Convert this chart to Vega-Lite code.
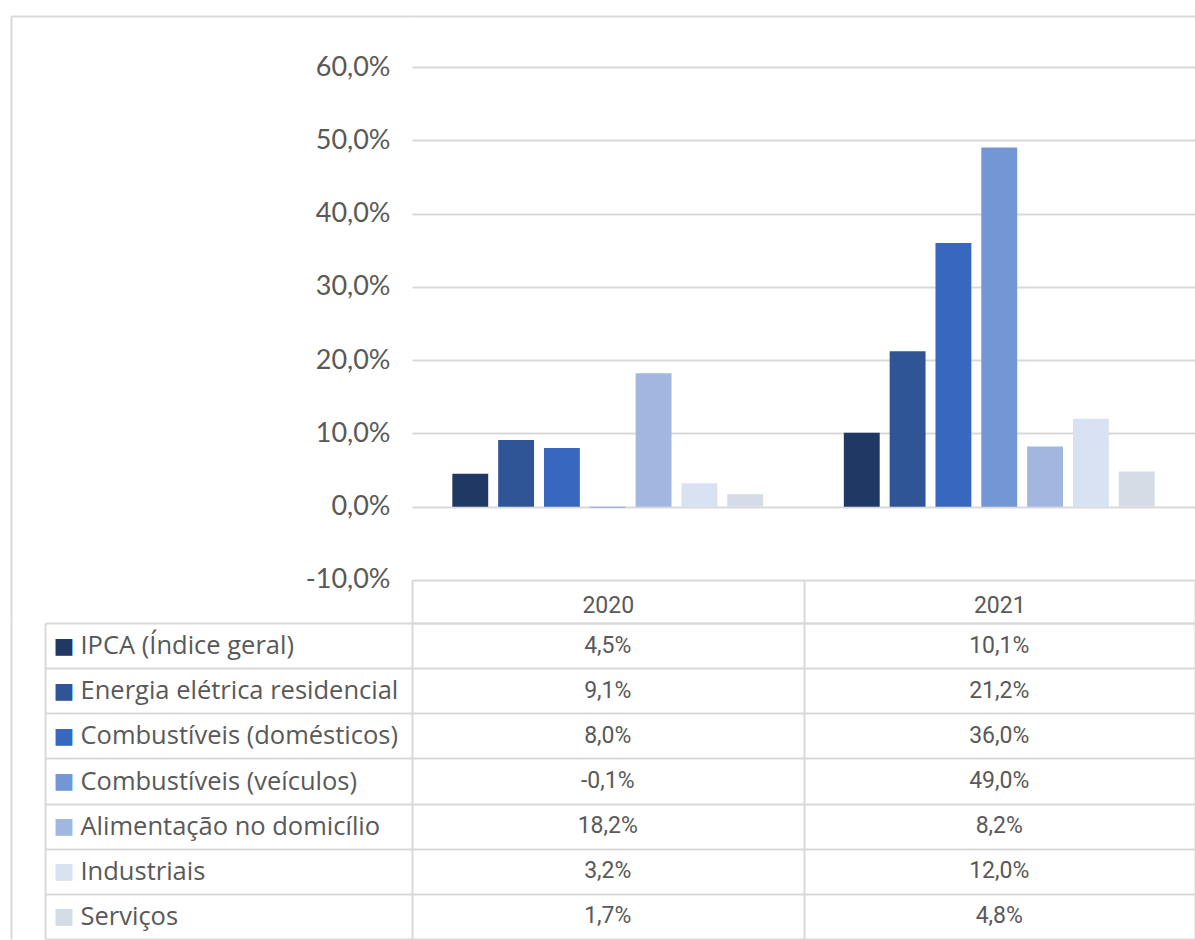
{
  "$schema": "https://vega.github.io/schema/vega-lite/v6.json",
  "padding": {"left": 10, "top": 15, "right": 0, "bottom": 0},
  "background": "white",
  "bounds": "flush",
  "spacing": 0,
  "config": {
    "locale": {"number": {"decimal": ",", "thousands": ".", "grouping": [3], "currency": ["R$", ""], "minus": "-"}},
    "view": {"stroke": null}
  },
  "data": {"values": [
    {"ano": "2020", "serie": "IPCA (Índice geral)", "valor": 0.045},
    {"ano": "2020", "serie": "Energia elétrica residencial", "valor": 0.091},
    {"ano": "2020", "serie": "Combustíveis (domésticos)", "valor": 0.080},
    {"ano": "2020", "serie": "Combustíveis (veículos)", "valor": -0.001},
    {"ano": "2020", "serie": "Alimentação no domicílio", "valor": 0.182},
    {"ano": "2020", "serie": "Industriais", "valor": 0.032},
    {"ano": "2020", "serie": "Serviços", "valor": 0.017},
    {"ano": "2021", "serie": "IPCA (Índice geral)", "valor": 0.101},
    {"ano": "2021", "serie": "Energia elétrica residencial", "valor": 0.212},
    {"ano": "2021", "serie": "Combustíveis (domésticos)", "valor": 0.360},
    {"ano": "2021", "serie": "Combustíveis (veículos)", "valor": 0.490},
    {"ano": "2021", "serie": "Alimentação no domicílio", "valor": 0.082},
    {"ano": "2021", "serie": "Industriais", "valor": 0.120},
    {"ano": "2021", "serie": "Serviços", "valor": 0.048}
  ]},
  "resolve": {"scale": {"x": "independent", "y": "independent"}},
  "vconcat": [
    {
      "width": 783,
      "height": 607,
      "layer": [
        {
          "mark": {"type": "bar"},
          "encoding": {
            "x": {"field": "ano", "type": "nominal", "scale": {"paddingInner": 0, "paddingOuter": 0}, "axis": null},
            "xOffset": {"field": "serie", "type": "nominal",
              "sort": ["IPCA (Índice geral)", "Energia elétrica residencial", "Combustíveis (domésticos)", "Combustíveis (veículos)", "Alimentação no domicílio", "Industriais", "Serviços"],
              "scale": {"paddingInner": 0.217, "paddingOuter": 0.88}},
            "y": {"field": "valor", "type": "quantitative",
              "scale": {"domain": [-0.1587, 0.6696], "nice": false, "zero": false},
              "axis": {
                "values": [-0.1, 0, 0.1, 0.2, 0.3, 0.4, 0.5, 0.6, 0.6696],
                "format": ".1%",
                "labelExpr": "datum.value > 0.65 ? '' : datum.label",
                "title": null,
                "domain": false,
                "grid": true, "gridColor": "#d9d9d9", "gridWidth": 2,
                "ticks": true, "tickSize": 401, "tickWidth": 2,
                "tickColor": {"condition": {"test": "datum.value > 0.65", "value": "#d9d9d9"}, "value": "transparent"},
                "labelPadding": -379,
                "labelFont": "Lato", "labelFontSize": 27, "labelColor": "#595959"
              }},
            "color": {"field": "serie", "type": "nominal", "legend": null,
              "scale": {
                "domain": ["IPCA (Índice geral)", "Energia elétrica residencial", "Combustíveis (domésticos)", "Combustíveis (veículos)", "Alimentação no domicílio", "Industriais", "Serviços"],
                "range": ["#1f3864", "#2f5597", "#3867bf", "#7297d4", "#a2b7e0", "#d9e2f3", "#d6dce5"]}}
          }
        },
        {
          "mark": {"type": "rule", "opacity": 0},
          "encoding": {
            "y": {"field": "valor", "type": "quantitative",
              "axis": {"orient": "left", "offset": 401, "domain": true, "domainColor": "#d9d9d9", "domainWidth": 2, "labels": false, "ticks": false, "grid": false, "title": null}}
          }
        }
      ],
      "resolve": {"axis": {"y": "independent"}}
    },
    {
      "width": 783,
      "height": 316,
      "layer": [
        {
          "mark": {"type": "text", "font": "Roboto", "fontSize": 23, "color": "#595959"},
          "encoding": {
            "x": {"field": "ano", "type": "nominal", "scale": {"paddingInner": 0, "paddingOuter": 0},
              "axis": {"orient": "top", "tickBand": "extent", "tickSize": 43, "tickColor": "#d9d9d9", "tickWidth": 2,
                "domain": true, "domainColor": "#d9d9d9", "domainWidth": 2,
                "grid": true, "gridColor": "#d9d9d9", "gridWidth": 2,
                "labelAngle": 0, "labelBaseline": "middle", "labelPadding": -25,
                "labelFont": "Roboto", "labelFontSize": 23, "labelColor": "#595959", "title": null}},
            "y": {"field": "serie", "type": "nominal",
              "sort": ["IPCA (Índice geral)", "Energia elétrica residencial", "Combustíveis (domésticos)", "Combustíveis (veículos)", "Alimentação no domicílio", "Industriais", "Serviços"],
              "scale": {"paddingInner": 0, "paddingOuter": 0},
              "axis": {"orient": "left", "tickBand": "extent", "tickSize": 367, "tickColor": "#d9d9d9", "tickWidth": 2,
                "grid": true, "gridColor": "#d9d9d9", "gridWidth": 2, "domain": false,
                "labelAlign": "left", "labelBaseline": "middle", "labelPadding": -35, "labelLimit": 0,
                "labelFont": "Open Sans", "labelFontSize": 25.5, "labelColor": "#595959", "title": null}},
            "text": {"field": "valor", "type": "quantitative", "format": ".1%"}
          }
        },
        {
          "mark": {"type": "rule", "opacity": 0},
          "encoding": {
            "y": {"field": "serie", "type": "nominal",
              "sort": ["IPCA (Índice geral)", "Energia elétrica residencial", "Combustíveis (domésticos)", "Combustíveis (veículos)", "Alimentação no domicílio", "Industriais", "Serviços"],
              "axis": {"orient": "left", "offset": 367, "domain": true, "domainColor": "#d9d9d9", "domainWidth": 2,
                "ticks": false, "grid": false, "title": null,
                "labelExpr": "'■'", "labelAlign": "left", "labelBaseline": "middle", "labelPadding": -8,
                "labelFont": "DejaVu Sans", "labelFontSize": 22,
                "labelColor": {"condition": [
                  {"test": "datum.value === 'IPCA (Índice geral)'", "value": "#1f3864"},
                  {"test": "datum.value === 'Energia elétrica residencial'", "value": "#2f5597"},
                  {"test": "datum.value === 'Combustíveis (domésticos)'", "value": "#3867bf"},
                  {"test": "datum.value === 'Combustíveis (veículos)'", "value": "#7297d4"},
                  {"test": "datum.value === 'Alimentação no domicílio'", "value": "#a2b7e0"},
                  {"test": "datum.value === 'Industriais'", "value": "#d9e2f3"}
                ], "value": "#d6dce5"}}}
          }
        },
        {
          "mark": {"type": "rule", "opacity": 0},
          "encoding": {
            "y": {"field": "serie", "type": "nominal",
              "sort": ["IPCA (Índice geral)", "Energia elétrica residencial", "Combustíveis (domésticos)", "Combustíveis (veículos)", "Alimentação no domicílio", "Industriais", "Serviços"],
              "axis": {"orient": "left", "offset": 401, "domain": true, "domainColor": "#d9d9d9", "domainWidth": 2,
                "ticks": false, "labels": false, "grid": false, "title": null}}
          }
        }
      ],
      "resolve": {"axis": {"y": "independent"}}
    }
  ]
}
